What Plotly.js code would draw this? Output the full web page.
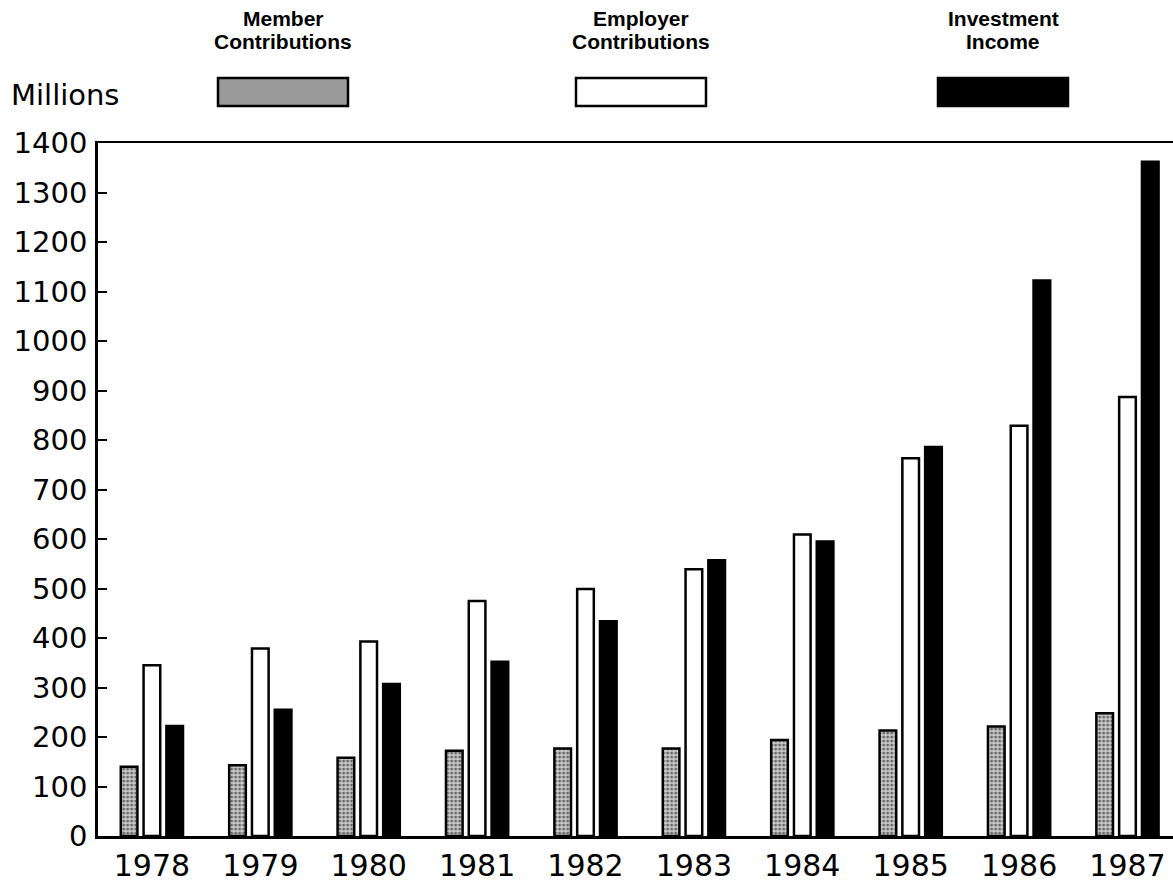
<!DOCTYPE html>
<html>
<head>
<meta charset="utf-8">
<script src="https://cdn.plot.ly/plotly-3.0.1.min.js"></script>
<style>html,body{margin:0;padding:0;background:#fff;}#chart{width:1173px;height:886px;}</style>
</head>
<body>
<div id="chart"></div>
<script>
// Data (millions)
var years = ['1978','1979','1980','1981','1982','1983','1984','1985','1986','1987'];
var memberContributions = [140, 143, 158, 172, 177, 177, 194, 213, 221, 248];
var employerContributions = [345, 379, 393, 475, 499, 539, 609, 763, 829, 887];
var investmentIncome = [222, 255, 307, 352, 434, 557, 595, 786, 1122, 1362];
var yTicks = [0, 100, 200, 300, 400, 500, 600, 700, 800, 900, 1000, 1100, 1200, 1300, 1400];
var legendLine1 = ['Member', 'Employer', 'Investment'];
var legendLine2 = ['Contributions', 'Contributions', 'Income'];

var W = 1173, H = 886;
var plotLeft = 97.7, plotTop = 143, plotBottom = 836;
function px(x){ return x / W; }
function py(y){ return (plotBottom - y) / (plotBottom - plotTop); }

var lineW = 2.5;
var traces = [
  {type:'bar', x: years, y: memberContributions, name:'Member Contributions',
   marker:{color:'#c8c8c8', line:{color:'#000', width:lineW},
     pattern:{shape:'.', fgcolor:'#6a6a6a', bgcolor:'#cfcfcf', size:4, solidity:0.45}},
   hoverinfo:'x+y'},
  {type:'bar', x: years, y: employerContributions, name:'Employer Contributions',
   marker:{color:'#ffffff', line:{color:'#000', width:lineW}}, hoverinfo:'x+y'},
  {type:'bar', x: years, y: investmentIncome, name:'Investment Income',
   marker:{color:'#000000', line:{color:'#000', width:lineW}}, hoverinfo:'x+y'}
];

var legendX = [283, 641, 1003];
var swatchFill = ['#9a9a9a', '#ffffff', '#000000'];
var shapes = [], annotations = [];
var legendFont = {family:'Liberation Sans, Arial, sans-serif', size:21, color:'#000'};
for (var i = 0; i < 3; i++) {
  shapes.push({type:'rect', xref:'paper', yref:'paper',
    x0: px(legendX[i]-65), x1: px(legendX[i]+65), y0: py(106), y1: py(78),
    fillcolor: swatchFill[i], line:{color:'#000', width:2.5}});
  annotations.push({xref:'paper', yref:'paper', x: px(legendX[i]), y: py(18),
    xanchor:'center', yanchor:'middle', showarrow:false,
    text:'<b>' + legendLine1[i] + '</b>', font: legendFont});
  annotations.push({xref:'paper', yref:'paper', x: px(legendX[i]), y: py(41),
    xanchor:'center', yanchor:'middle', showarrow:false,
    text:'<b>' + legendLine2[i] + '</b>', font: legendFont});
}
annotations.push({xref:'paper', yref:'paper', x: px(9), y: py(95),
  xanchor:'left', yanchor:'middle', showarrow:false, text:'Millions',
  font:{family:'DejaVu Sans, sans-serif', size:29, color:'#000'}});

var layout = {
  width: W, height: H,
  margin:{l:0, r:0, t:plotTop, b:H-plotBottom, pad:0},
  paper_bgcolor:'#fff', plot_bgcolor:'#fff',
  showlegend:false,
  barmode:'group', bargap:0.369, bargroupgap:0.27,
  xaxis:{type:'category', domain:[px(plotLeft), 1], range:[-0.5, 9.42],
    showline:true, linecolor:'#000', linewidth:lineW, mirror:true,
    showgrid:false, zeroline:false, ticks:'', ticklabelstandoff:1,
    tickfont:{family:'DejaVu Sans, sans-serif', size:30, color:'#000'}},
  yaxis:{range:[0,1400], tickvals:yTicks, ticktext:yTicks.map(String),
    showline:true, linecolor:'#000', linewidth:lineW,
    showgrid:false, zeroline:false, ticks:'inside', ticklen:9, tickwidth:2, tickcolor:'#000',
    ticklabelstandoff:2,
    tickfont:{family:'DejaVu Sans, sans-serif', size:29, color:'#000'}},
  shapes: shapes,
  annotations: annotations
};

Plotly.newPlot('chart', traces, layout, {displayModeBar:false, staticPlot:true});
</script>
</body>
</html>
